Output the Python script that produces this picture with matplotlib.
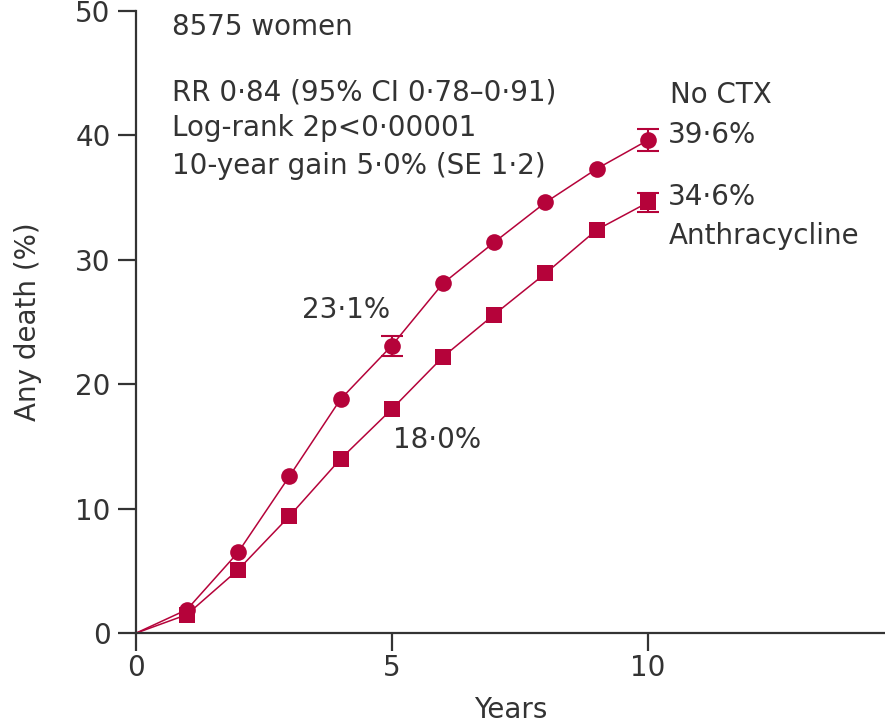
import matplotlib
matplotlib.use("Agg")
import matplotlib.pyplot as plt

plt.rcParams['font.family'] = ['DejaVu Sans']

red = '#b5033a'
ink = '#333333'

years = [0, 1, 2, 3, 4, 5, 6, 7, 8, 9, 10]
no_ctx = [0, 1.9, 6.5, 12.6, 18.8, 23.1, 28.1, 31.4, 34.6, 37.3, 39.6]
anthra = [0, 1.5, 5.1, 9.4, 14.0, 18.0, 22.2, 25.6, 28.9, 32.4, 34.6]

# standard errors
no_ctx_se_years = [5, 10]
no_ctx_se = [0.8, 0.9]
anthra_se_years = [10]
anthra_se = [0.8]

fig = plt.figure(figsize=(8.85, 7.25), dpi=100)
ax = fig.add_axes([0.1533, 0.1265, 0.8467, 0.8587])

ax.plot(years, no_ctx, color=red, lw=1.1, zorder=2)
ax.plot(years[1:], no_ctx[1:], 'o', color=red, ms=12, mew=0, zorder=3)
ax.plot(years, anthra, color=red, lw=1.1, zorder=2)
ax.plot(years[1:], anthra[1:], 's', color=red, ms=11, mew=0, zorder=3)

ax.errorbar(no_ctx_se_years, [no_ctx[y] for y in no_ctx_se_years], yerr=no_ctx_se,
            fmt='none', ecolor=red, elinewidth=1.5, capsize=8, capthick=1.5, zorder=3)
ax.errorbar(anthra_se_years, [anthra[y] for y in anthra_se_years], yerr=anthra_se,
            fmt='none', ecolor=red, elinewidth=1.5, capsize=8, capthick=1.5, zorder=3)

ax.set_xlim(0, 14.63)
ax.set_ylim(0, 50)
ax.set_xticks([0, 5, 10])
ax.set_yticks([0, 10, 20, 30, 40, 50])
for s in ['top', 'right']:
    ax.spines[s].set_visible(False)
for s in ['left', 'bottom']:
    ax.spines[s].set_linewidth(1.6)
    ax.spines[s].set_color(ink)
fs = 20
ax.tick_params(length=13, width=1.6, color=ink, labelsize=fs, labelcolor=ink)
ax.tick_params(axis='y', pad=5)
ax.tick_params(axis='x', pad=2)

ax.set_xlabel('Years', fontsize=fs, color=ink, labelpad=10)
ax.set_ylabel('Any death (%)', fontsize=fs, color=ink, labelpad=24)

ax.text(0.71, 48.05, '8575 women', fontsize=fs, color=ink, va='baseline')
ax.text(0.71, 42.8, 'RR 0·84 (95% CI 0·78–0·91)', fontsize=fs, color=ink, va='baseline')
ax.text(0.71, 39.9, 'Log-rank 2p<0·00001', fontsize=fs, color=ink, va='baseline')
ax.text(0.71, 36.9, '10-year gain 5·0% (SE 1·2)', fontsize=fs, color=ink, va='baseline')

ax.text(10.44, 42.6, 'No CTX', fontsize=fs, color=ink, va='baseline')
ax.text(10.4, 39.4, '39·6%', fontsize=fs, color=ink, va='baseline')
ax.text(10.4, 34.4, '34·6%', fontsize=fs, color=ink, va='baseline')
ax.text(10.4, 31.3, 'Anthracycline', fontsize=fs, color=ink, va='baseline')
ax.text(3.25, 25.3, '23·1%', fontsize=fs, color=ink, va='baseline')
ax.text(5.02, 14.9, '18·0%', fontsize=fs, color=ink, va='baseline')

fig.savefig('out.png', dpi=100)
